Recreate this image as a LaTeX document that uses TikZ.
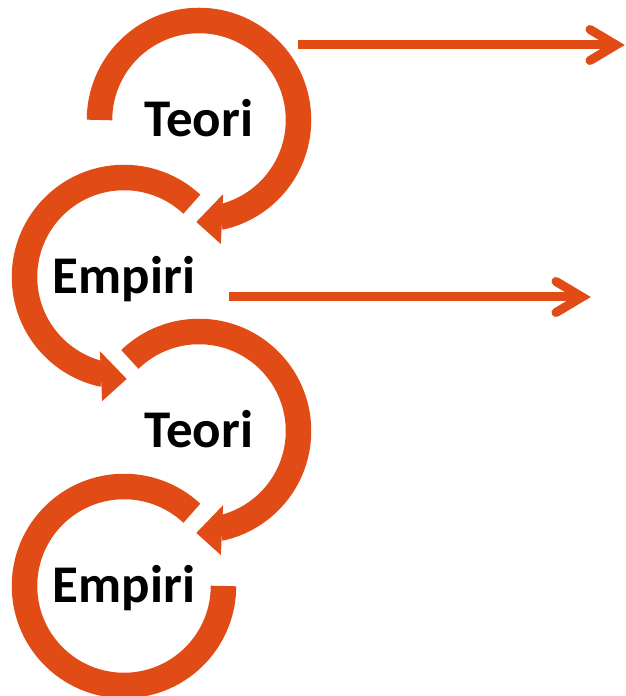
\documentclass[tikz,border=0pt]{standalone}
\usepackage{fontspec}
\setmainfont{Carlito}
\usetikzlibrary{calc}
\definecolor{accent}{RGB}{224,75,22}
\begin{document}
\begin{tikzpicture}[x=1pt,y=1pt,
  ring/.style={draw=accent, line width=25.5pt, line cap=butt},
  headfill/.style={fill=accent},
  word/.style={font=\fontsize{53}{62}\selectfont\bfseries, text=black, inner sep=0pt, anchor=base},
  flow/.style={draw=accent, line width=9pt, line cap=butt},
  chev/.style={draw=accent, line width=9pt, line cap=round, line join=miter}]
\useasboundingbox (0,0) rectangle (626,696);

% centres of the four loops
\coordinate (c1) at (199,576);
\coordinate (c2) at (124,419);
\coordinate (c3) at (199,265);
\coordinate (c4) at (124,110);

% labels
\node[word] (t1) at ($(c1)+(0,-17)$) {Teori};
\node[word] (e1) at ($(c2)+(0,-17)$) {Empiri};
\node[word] (t2) at ($(c3)+(0,-17)$) {Teori};
\node[word] (e2) at ($(c4)+(0,-17)$) {Empiri};

% loop 1: clockwise, from the left side round to the bottom
\draw[ring] ($(c1)+(180:99.5)$) arc[start angle=180, end angle=-78, radius=99.5];
\fill[headfill] ($(c1)+(-72:78)$) -- ($(c1)+(-91.5:102)$) -- ($(c1)+(-80:126)$) -- cycle;

% loop 2: counter-clockwise, from upper right round to the bottom
\draw[ring] ($(c2)+(47:99.5)$) arc[start angle=47, end angle=258, radius=99.5];
\fill[headfill] ($(c2)+(252:78)$) -- ($(c2)+(271.5:102)$) -- ($(c2)+(260:126)$) -- cycle;

% loop 3: clockwise, from upper left round to the bottom
\draw[ring] ($(c3)+(134:99.5)$) arc[start angle=134, end angle=-78, radius=99.5];
\fill[headfill] ($(c3)+(-72:78)$) -- ($(c3)+(-91.5:102)$) -- ($(c3)+(-80:126)$) -- cycle;

% loop 4: counter-clockwise, open at the right
\draw[ring] ($(c4)+(47:99.5)$) arc[start angle=47, end angle=360, radius=99.5];

% outgoing arrows
\coordinate (s1) at (298,651);
\coordinate (a1) at (616,651);
\coordinate (s2) at (229,399);
\coordinate (a2) at (582,399);
\draw[flow] (s1) -- (a1);
\draw[chev] ($(a1)+(-26,15.5)$) -- (a1) -- ($(a1)+(-26,-15.5)$);
\draw[flow] (s2) -- (a2);
\draw[chev] ($(a2)+(-26,15.5)$) -- (a2) -- ($(a2)+(-26,-15.5)$);
\end{tikzpicture}
\end{document}
